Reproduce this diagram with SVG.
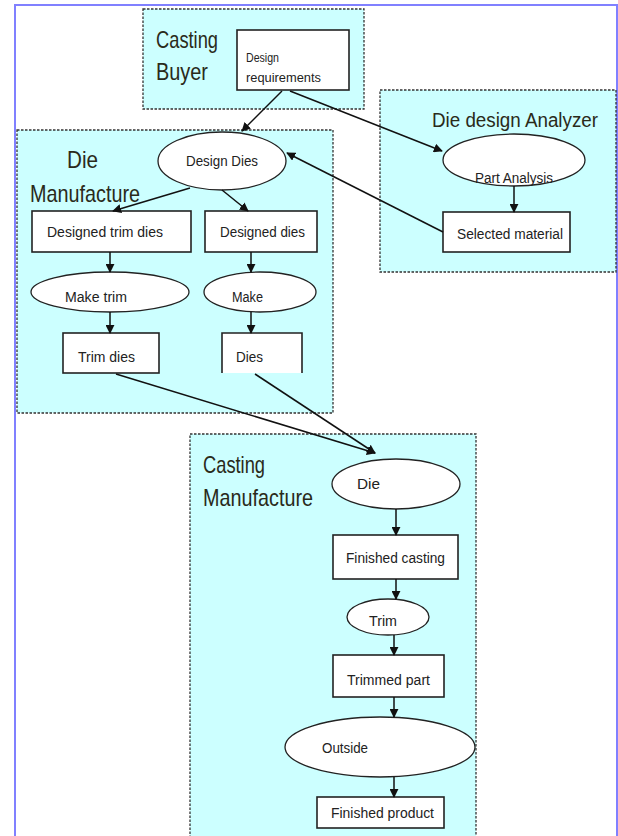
<svg xmlns="http://www.w3.org/2000/svg" width="618" height="836" viewBox="0 0 618 836">
<style>
.grp{fill:#ccffff;stroke:#333;stroke-width:1.3;stroke-dasharray:2.5 1.5}
.box{fill:#fff;stroke:#222;stroke-width:1.6}
.ell{fill:#fff;stroke:#222;stroke-width:1.3}
.title{font-family:"Liberation Sans",Arial,sans-serif;font-size:24px;fill:#2a2a1a}
.lbl{font-family:"Liberation Sans",Arial,sans-serif;font-size:14px;fill:#222}
.con{stroke:#111;stroke-width:1.5;fill:none;marker-end:url(#ah)}
</style>
<defs>
<marker id="ah" viewBox="0 0 10 10" refX="9" refY="5" markerWidth="9" markerHeight="9" markerUnits="userSpaceOnUse" orient="auto">
<path d="M0,0 L10,5 L0,10 z" fill="#111"/>
</marker>
</defs>
<rect x="0" y="0" width="618" height="836" fill="#fff"/>
<path d="M15,836 V5 H617 V836" fill="none" stroke="#8080ff" stroke-width="2"/>

<g id="casting-buyer">
<rect class="grp" x="143" y="9" width="221" height="100"/>
<text class="title" x="156" y="48" textLength="62" lengthAdjust="spacingAndGlyphs">Casting</text>
<text class="title" x="156" y="80" textLength="52" lengthAdjust="spacingAndGlyphs">Buyer</text>
</g>
<g id="die-design-analyzer">
<rect class="grp" x="380" y="90" width="236" height="182"/>
<text class="title" x="432" y="127" style="font-size:20px" textLength="166" lengthAdjust="spacingAndGlyphs">Die design Analyzer</text>
</g>
<g id="die-manufacture">
<rect class="grp" x="17" y="130" width="316" height="283"/>
<text class="title" x="67" y="168" textLength="31" lengthAdjust="spacingAndGlyphs">Die</text>
<text class="title" x="30" y="202" textLength="110" lengthAdjust="spacingAndGlyphs">Manufacture</text>
</g>
<g id="casting-manufacture">
<rect class="grp" x="190" y="434" width="286" height="404"/>
<text class="title" x="203" y="473" textLength="62" lengthAdjust="spacingAndGlyphs">Casting</text>
<text class="title" x="203" y="506" textLength="110" lengthAdjust="spacingAndGlyphs">Manufacture</text>
</g>

<g id="design-requirements">
<rect class="box" x="237" y="30" width="112" height="60"/>
<text class="lbl" x="246" y="62" style="font-size:12px" textLength="33" lengthAdjust="spacingAndGlyphs">Design</text>
<text class="lbl" x="246" y="82" style="font-size:12px" textLength="75" lengthAdjust="spacingAndGlyphs">requirements</text>
</g>
<g id="part-analysis">
<ellipse class="ell" cx="514" cy="160" rx="71" ry="26"/>
<text class="lbl" x="514" y="183" text-anchor="middle" textLength="78" lengthAdjust="spacingAndGlyphs">Part Analysis</text>
</g>
<g id="selected-material">
<rect class="box" x="443" y="212" width="127" height="40"/>
<text class="lbl" x="457" y="239" textLength="106" lengthAdjust="spacingAndGlyphs">Selected material</text>
</g>
<g id="design-dies">
<ellipse class="ell" cx="222" cy="161" rx="64" ry="29"/>
<text class="lbl" x="222" y="166" text-anchor="middle" textLength="72" lengthAdjust="spacingAndGlyphs">Design Dies</text>
</g>
<g id="designed-trim-dies">
<rect class="box" x="32" y="211" width="159" height="41"/>
<text class="lbl" x="47" y="237" textLength="116" lengthAdjust="spacingAndGlyphs">Designed trim dies</text>
</g>
<g id="designed-dies">
<rect class="box" x="205" y="211" width="112" height="41"/>
<text class="lbl" x="220" y="237" textLength="85" lengthAdjust="spacingAndGlyphs">Designed dies</text>
</g>
<g id="make-trim">
<ellipse class="ell" cx="110" cy="292" rx="79" ry="20"/>
<text class="lbl" x="65" y="302" textLength="62" lengthAdjust="spacingAndGlyphs">Make trim</text>
</g>
<g id="make">
<ellipse class="ell" cx="260" cy="292" rx="56" ry="20"/>
<text class="lbl" x="232" y="302" textLength="31" lengthAdjust="spacingAndGlyphs">Make</text>
</g>
<g id="trim-dies">
<rect class="box" x="63" y="333" width="96" height="40"/>
<text class="lbl" x="78" y="362" textLength="57" lengthAdjust="spacingAndGlyphs">Trim dies</text>
</g>
<g id="dies">
<rect x="222" y="333" width="80" height="40" fill="#fff"/>
<path d="M222,373 V333 H302 V373" fill="none" stroke="#222" stroke-width="1.6"/>
<text class="lbl" x="236" y="362" textLength="27" lengthAdjust="spacingAndGlyphs">Dies</text>
</g>
<g id="die">
<ellipse class="ell" cx="396" cy="484" rx="64" ry="25"/>
<text class="lbl" x="357" y="489" textLength="23" lengthAdjust="spacingAndGlyphs">Die</text>
</g>
<g id="finished-casting">
<rect class="box" x="333" y="535" width="125" height="44"/>
<text class="lbl" x="346" y="563" textLength="99" lengthAdjust="spacingAndGlyphs">Finished casting</text>
</g>
<g id="trim">
<ellipse class="ell" cx="388" cy="617" rx="41" ry="18"/>
<text class="lbl" x="369" y="626" textLength="28" lengthAdjust="spacingAndGlyphs">Trim</text>
</g>
<g id="trimmed-part">
<rect class="box" x="333" y="655" width="111" height="42"/>
<text class="lbl" x="347" y="685" textLength="83" lengthAdjust="spacingAndGlyphs">Trimmed part</text>
</g>
<g id="outside">
<ellipse class="ell" cx="380" cy="747" rx="95" ry="30"/>
<text class="lbl" x="322" y="753" textLength="46" lengthAdjust="spacingAndGlyphs">Outside</text>
</g>
<g id="finished-product">
<rect class="box" x="317" y="797" width="127" height="31"/>
<text class="lbl" x="331" y="818" textLength="103" lengthAdjust="spacingAndGlyphs">Finished product</text>
</g>

<g id="connectors">
<line class="con" x1="282" y1="91" x2="242" y2="131"/>
<line class="con" x1="290" y1="91" x2="442" y2="151"/>
<line class="con" x1="443" y1="232" x2="287" y2="153"/>
<line class="con" x1="514" y1="186" x2="514" y2="212"/>
<line class="con" x1="190" y1="188" x2="113" y2="211"/>
<line class="con" x1="222" y1="190" x2="248" y2="211"/>
<line class="con" x1="110" y1="252" x2="110" y2="272"/>
<line class="con" x1="251" y1="252" x2="251" y2="272"/>
<line class="con" x1="110" y1="312" x2="110" y2="333"/>
<line class="con" x1="251" y1="312" x2="251" y2="333"/>
<line class="con" x1="116" y1="374" x2="375" y2="453"/>
<line class="con" x1="255" y1="374" x2="375" y2="453"/>
<line class="con" x1="396" y1="509" x2="396" y2="535"/>
<line class="con" x1="396" y1="579" x2="396" y2="599"/>
<line class="con" x1="394" y1="635" x2="394" y2="655"/>
<line class="con" x1="394" y1="697" x2="394" y2="717"/>
<line class="con" x1="394" y1="777" x2="394" y2="797"/>
</g>
</svg>
